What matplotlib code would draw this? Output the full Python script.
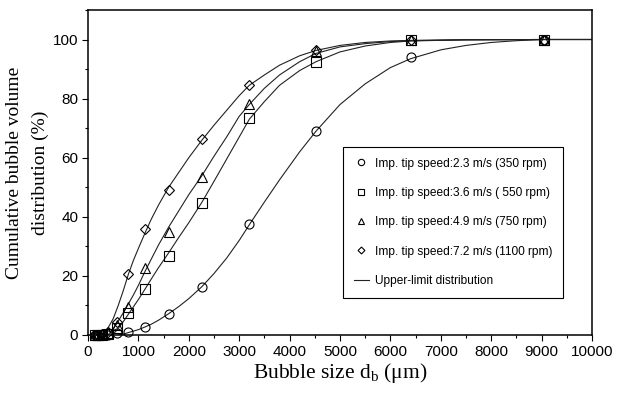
import numpy as np
import matplotlib.pyplot as plt
from matplotlib.ticker import MultipleLocator

# measured bubble sizes (um), sqrt(2) size classes
sizes = [141, 200, 283, 400, 566, 800, 1131, 1600, 2263, 3200, 4525, 6400, 9051]

# cumulative bubble volume distribution (%) for each impeller tip speed
cum_350 = [0, 0, 0, 0.1, 0.5, 1.0, 2.8, 7.0, 16.4, 37.7, 69.2, 94.1, 100]
cum_550 = [0, 0, 0.1, 0.3, 2.5, 7.4, 15.6, 26.7, 44.6, 73.4, 92.3, 100, 100]
cum_750 = [0, 0, 0.2, 0.6, 3.5, 9.6, 22.8, 35.0, 53.3, 78.3, 96.0, 100, 100]
cum_1100 = [0, 0, 0.3, 1.0, 4.5, 20.7, 35.8, 48.9, 66.4, 84.7, 96.6, 100, 100]

# upper-limit distribution fits, sampled along each curve
fit_x_350 = [600, 700, 800, 900, 1000, 1131, 1250, 1400, 1600, 1800, 2000, 2263,
             2500, 2750, 3000, 3200, 3500, 3800, 4200, 4525, 5000, 5500, 6000,
             6400, 7000, 7500, 8000, 8500, 9051, 10000]
fit_y_350 = [0, 0.3, 0.8, 1.3, 1.8, 2.7, 3.6, 5.0, 7.2, 9.6, 12.3, 16.4,
             20.8, 26, 32, 37.3, 45, 52.5, 62, 69, 78, 85, 90.5,
             93.5, 96.5, 98, 99, 99.6, 100, 100]

fit_x_550 = [480, 566, 700, 800, 900, 1000, 1131, 1250, 1400, 1600, 1800, 2000, 2263,
             2500, 2750, 3000, 3200, 3500, 3800, 4200, 4525, 5000, 5500, 6000,
             6400, 7500, 9051, 10000]
fit_y_550 = [0, 1.5, 4.5, 7, 9.5, 12, 15.5, 18.8, 22.8, 27.8, 33, 38, 45,
             52, 59.5, 67, 73, 79, 84.5, 89.5, 92.5, 95.8, 97.8, 99,
             99.5, 99.9, 100, 100]

fit_x_750 = [397, 500, 566, 700, 800, 900, 1000, 1131, 1250, 1400, 1600, 1800, 2000,
             2263, 2500, 2750, 3000, 3200, 3500, 3800, 4200, 4525, 5000, 5500,
             6000, 6400, 7500, 9051, 10000]
fit_y_750 = [0, 2, 3.8, 7.5, 10.5, 13.5, 16.8, 21.5, 25.5, 30.5, 36.5, 42, 47.5,
             54, 60.5, 67, 74, 78, 83.5, 88, 92.5, 95.3, 97.5, 98.6,
             99.3, 99.6, 99.9, 100, 100]

fit_x_1100 = [240, 300, 400, 500, 600, 700, 800, 900, 1000, 1131, 1250, 1400, 1600,
              1800, 2000, 2263, 2500, 2750, 3000, 3200, 3500, 3800, 4200, 4525,
              5000, 5500, 6000, 6400, 7500, 9051, 10000]
fit_y_1100 = [0, 0.5, 2.5, 5.5, 10, 15, 20.5, 25.2, 29.3, 34.5, 39, 44, 50,
              55, 60, 66, 71, 76, 81, 84.5, 88, 91.3, 94.5, 96.3,
              98, 99, 99.5, 99.7, 99.9, 100, 100]

labels = ["Imp. tip speed:2.3 m/s (350 rpm)",
          "Imp. tip speed:3.6 m/s ( 550 rpm)",
          "Imp. tip speed:4.9 m/s (750 rpm)",
          "Imp. tip speed:7.2 m/s (1100 rpm)"]

plt.rcParams['font.family'] = ['Liberation Sans', 'DejaVu Sans']

fig = plt.figure(figsize=(6.18, 3.95), dpi=100)
ax = fig.add_axes([0.1424, 0.152, 0.8156, 0.8228])

line_kw = dict(color='#222222', lw=0.8)
ax.plot(fit_x_350, fit_y_350, label='Upper-limit distribution', **line_kw)
ax.plot(fit_x_550, fit_y_550, **line_kw)
ax.plot(fit_x_750, fit_y_750, **line_kw)
ax.plot(fit_x_1100, fit_y_1100, **line_kw)

mk_kw = dict(ls='none', mfc='none', mec='black', mew=0.8, clip_on=False, zorder=3)
ax.plot(sizes, cum_350, marker='o', ms=6.5, label=labels[0], **mk_kw)
ax.plot(sizes, cum_550, marker='s', ms=6.5, label=labels[1], **mk_kw)
ax.plot(sizes, cum_750, marker='^', ms=7, label=labels[2], **mk_kw)
ax.plot(sizes, cum_1100, marker='D', ms=5, label=labels[3], **mk_kw)

ax.set_xlim(0, 10000)
ax.set_ylim(0, 110)
ax.set_yticks([0, 20, 40, 60, 80, 100])
ax.xaxis.set_major_locator(MultipleLocator(1000))
ax.xaxis.set_minor_locator(MultipleLocator(500))
ax.yaxis.set_minor_locator(MultipleLocator(10))
ax.tick_params(which='major', direction='out', length=4, width=0.8, labelsize=11, pad=3)
ax.tick_params(which='minor', direction='out', length=2.5, width=0.8)
for s in ax.spines.values():
    s.set_linewidth(1.1)

ax.set_xlabel(r'Bubble size d$_\mathregular{b}$ ($\mathregular{\mu}$m)',
              family='Liberation Serif', fontsize=15.5, labelpad=2)
ax.set_ylabel('Cumulative bubble volume\ndistribution (%)',
              family='Liberation Serif', fontsize=14, labelpad=3, linespacing=1.6)

handles, labs = ax.get_legend_handles_labels()
order = [1, 2, 3, 4, 0]
leg = ax.legend([handles[i] for i in order], [labs[i] for i in order],
                loc='upper left', bbox_to_anchor=(0.495, 0.597),
                fontsize=8.6, labelspacing=1.45, handlelength=1.2, handletextpad=0.5,
                borderpad=0.9, markerscale=0.7, fancybox=False, edgecolor='black',
                framealpha=1)
leg.get_frame().set_linewidth(0.8)

fig.savefig('out.png', dpi=100)
